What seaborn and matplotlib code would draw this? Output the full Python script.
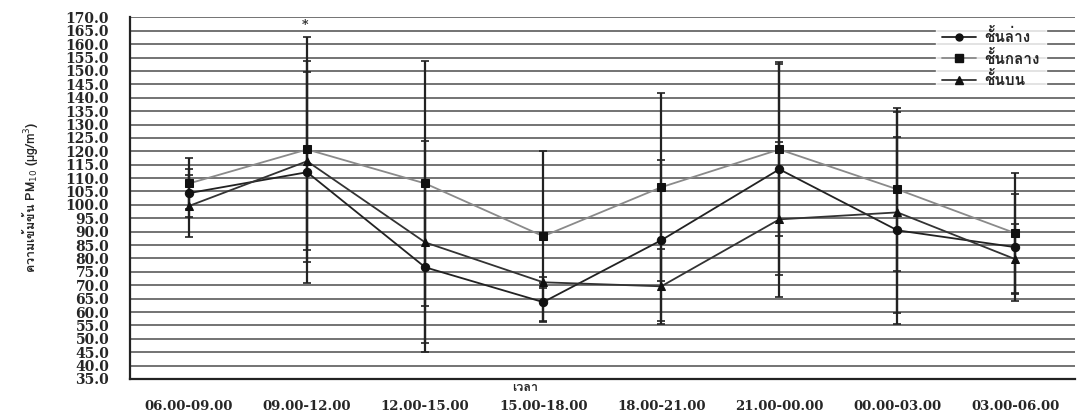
import matplotlib
matplotlib.use("Agg")
import matplotlib.pyplot as plt
from matplotlib import font_manager as fm
from matplotlib.ft2font import FT2Font
from matplotlib.lines import Line2D
import seaborn as sns
import pandas as pd
import numpy as np

categories = ["06.00-09.00", "09.00-12.00", "12.00-15.00", "15.00-18.00",
              "18.00-21.00", "21.00-00.00", "00.00-03.00", "03.00-06.00"]
series_names = ["ชั้นล่าง", "ชั้นกลาง", "ชั้นบน"]
lower_vals = [104.4, 112.2, 76.7, 63.7, 86.8, 113.3, 90.5, 84.2]
middle_vals = [108.0, 120.7, 108.0, 88.3, 106.6, 120.7, 105.8, 89.4]
upper_vals = [99.6, 116.3, 86.0, 71.1, 69.6, 94.6, 97.2, 79.7]
lower_err = [9.0, 41.5, 31.7, 7.0, 30.0, 39.3, 35.0, 20.0]
middle_err = [9.4, 42.0, 45.6, 32.0, 35.0, 32.5, 30.4, 22.4]
upper_err = [11.6, 33.2, 37.7, 2.0, 14.0, 29.0, 37.6, 13.0]
y_ticks = np.arange(35, 171, 5)
x_title = "เวลา"
y_title = "ความเข้มข้น PM$_{10}$ (µg/m$^3$)"


def find_thai_families():
    fams = []
    for f in fm.fontManager.ttflist:
        try:
            ft = FT2Font(f.fname)
            if all(ft.get_char_index(ord(ch)) != 0 for ch in "ชั้นล่างกบเวลา"):
                if f.name not in fams:
                    fams.append(f.name)
        except Exception:
            pass
    return fams


thai_fams = find_thai_families()
thai_list = thai_fams[:1] + ['DejaVu Sans']

sns.set_theme(style="white")
plt.rcParams['font.family'] = ['DejaVu Serif'] + thai_list

vals = [lower_vals, middle_vals, upper_vals]
errs = [lower_err, middle_err, upper_err]
rows = []
for name, v, e in zip(series_names, vals, errs):
    for i, c in enumerate(categories):
        rows.append({"x": i, "cat": c, "series": name, "value": v[i], "err": e[i]})
df = pd.DataFrame(rows)

fig = plt.figure(figsize=(10.77, 4.19), dpi=100)
ax = fig.add_axes([0.1207, 0.0955, 0.877, 0.863])

for y in y_ticks:
    ax.axhline(y, color="#4d4d4d", lw=1.1, zorder=0)

line_colors = {"ชั้นล่าง": "#222222", "ชั้นกลาง": "#8a8a8a", "ชั้นบน": "#333333"}
markers = {"ชั้นล่าง": "o", "ชั้นกลาง": "s", "ชั้นบน": "^"}
msizes = {"ชั้นล่าง": 5, "ชั้นกลาง": 6, "ชั้นบน": 5.5}

for name in series_names:
    sub = df[df.series == name]
    ax.errorbar(sub["x"], sub["value"], yerr=sub["err"], fmt="none",
                ecolor="#222222", elinewidth=1.6, capsize=3, capthick=1.2, zorder=2)

sns.lineplot(data=df, x="x", y="value", hue="series", style="series",
             palette=line_colors, markers=markers, dashes=False,
             hue_order=series_names, style_order=series_names,
             markersize=6, linewidth=1.3, ax=ax, legend=False, zorder=3,
             markeredgecolor="#111111")
for ln in ax.lines[-3:]:
    ln.set_markerfacecolor("#111111")

ax.text(0.98, 166.8, "*", ha="center", va="center", fontsize=9, fontweight="bold")

ax.set_xlim(-0.5, 7.5)
ax.set_ylim(35, 170)
ax.set_yticks(y_ticks)
ax.set_yticklabels([f"{t:.1f}" for t in y_ticks], fontsize=10, fontweight="bold",
                   family="DejaVu Serif")
ax.set_xticks(np.arange(-0.5, 8, 1))
ax.set_xticklabels([])
ax.set_xticks(np.arange(8), minor=True)
ax.set_xticklabels(categories, minor=True, fontsize=9.5, fontweight="bold",
                   family="DejaVu Serif")
ax.tick_params(axis="x", which="minor", length=0, pad=15)
ax.tick_params(axis="x", which="major", length=4, width=1, direction="out", color="#444444")
ax.tick_params(axis="y", length=8, width=1, direction="out", pad=7, color="#444444")
ax.set_xlabel("")
ax.set_ylabel("")
for s in ["left", "bottom"]:
    ax.spines[s].set_color("#222222")
    ax.spines[s].set_linewidth(1.6)
for s in ["top", "right"]:
    ax.spines[s].set_visible(False)

fig.text(0.488, 0.074, x_title, ha="center", va="center", fontsize=9, fontweight="bold",
         family=thai_list)
fig.text(0.027, 0.53, y_title, ha="center", va="center",
         rotation=90, fontsize=9, fontweight="bold", family=thai_list)

handles = [Line2D([0], [0], color=line_colors[n], marker=markers[n], markersize=msizes[n],
                  markerfacecolor="#111111", markeredgecolor="#111111", lw=1.3)
           for n in series_names]
leg = ax.legend(handles, series_names, loc="upper right", bbox_to_anchor=(0.975, 1.0),
                frameon=True, handlelength=2.2, borderaxespad=0.3, labelspacing=0.3,
                handletextpad=0.6,
                prop={"family": thai_list, "weight": "bold", "size": 11})
leg.get_frame().set_facecolor("white")
leg.get_frame().set_edgecolor("white")

fig.savefig("out.png", dpi=100, facecolor="white")
